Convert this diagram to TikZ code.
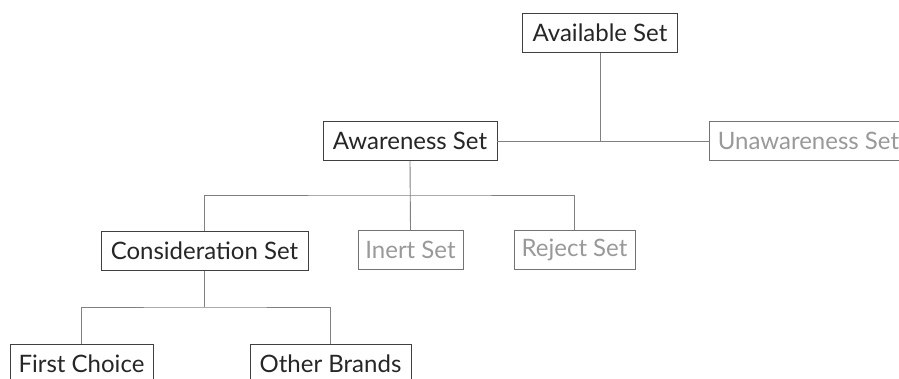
\documentclass[tikz,border=0pt]{standalone}
\usepackage{fontspec}
\setmainfont{Lato}
\begin{document}
\begin{tikzpicture}[x=1pt,y=-1pt,
  box/.style={draw=black!75, line width=0.9pt, fill=white, inner sep=0pt, minimum height=39pt, text=black!85, font=\fontsize{24}{26}\selectfont},
  gbox/.style={box, draw=black!55, text=black!40},
  conn/.style={draw=black!50, line width=0.9pt}]
\useasboundingbox (0,0) rectangle (899,379);
\clip (0,0) rectangle (899,379);
\node[box, minimum width=155pt] (avail) at (600,33) {Available Set};
\node[box, minimum width=174pt] (aware) at (410,141) {Awareness Set};
\node[gbox, minimum width=198pt, anchor=west] (unaware) at (709,141) {Unawareness Set};
\node[box, minimum width=207pt] (consid) at (204.5,251) {Consideration Set};
\node[gbox, minimum width=105pt] (inert) at (410.5,250) {Inert Set};
\node[gbox, minimum width=121pt] (reject) at (574.5,250) {Reject Set};
\node[box, minimum width=143pt] (first) at (81.5,363.5) {First Choice};
\node[box, minimum width=161pt] (other) at (330.5,363.5) {Other Brands};
\coordinate (j1) at (600,141);
\coordinate (j2) at (410,195);
\coordinate (j3) at (204.5,307);
\draw[conn] (avail.south) -- (j1);
\draw[conn] (aware.east) -- (unaware.west);
\draw[conn] (aware.south) -- (inert.north);
\draw[conn] (consid.north) |- (j2) -| (reject.north);
\draw[conn] (consid.south) -- (j3);
\draw[conn] (first.north) |- (j3) -| (other.north);
\end{tikzpicture}
\end{document}
